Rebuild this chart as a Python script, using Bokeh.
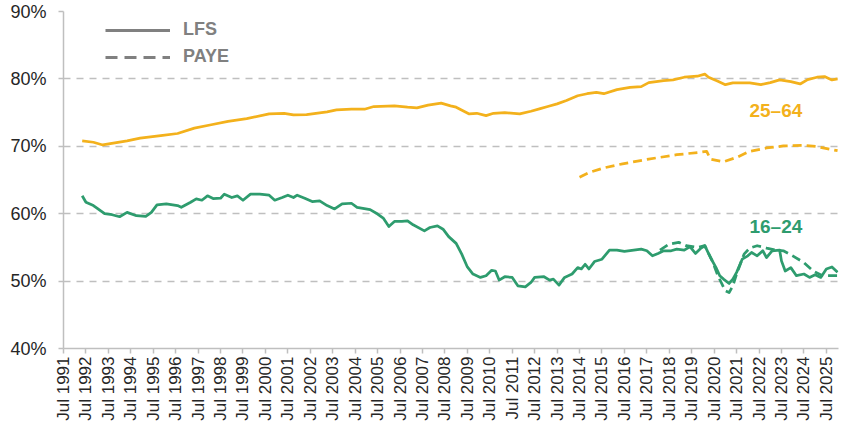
from bokeh.plotting import figure
from bokeh.models import Range1d, FixedTicker, Legend, LegendItem, Label, ColumnDataSource
from bokeh.embed import file_html
from bokeh.resources import INLINE
import math

# Employment rates (%), by age group and source
lfs_25_64_dates = ["1992-05", "1992-11", "1993-04", "1993-08", "1994-05", "1994-12", "1995-11",
                   "1996-08", "1997-05", "1998-02", "1998-11", "1999-09", "2000-09", "2001-05",
                   "2001-10", "2002-05", "2003-04", "2003-09", "2004-05", "2004-12", "2005-05",
                   "2006-04", "2006-11", "2007-04", "2007-10", "2008-05", "2008-10", "2009-01",
                   "2009-08", "2009-12", "2010-05", "2010-09", "2011-03", "2011-11", "2012-05",
                   "2012-10", "2013-02", "2013-07", "2013-12", "2014-06", "2014-11", "2015-04",
                   "2015-08", "2016-03", "2016-10", "2017-04", "2017-08", "2018-04", "2018-09",
                   "2019-03", "2019-10", "2020-02", "2020-04", "2020-09", "2021-01", "2021-05",
                   "2022-02", "2022-08", "2023-01", "2023-06", "2023-12", "2024-05", "2024-09",
                   "2025-02", "2025-06", "2025-10", "2026-01"]
lfs_25_64 = [70.8, 70.6, 70.2, 70.4, 70.8, 71.2, 71.6,
             71.9, 72.7, 73.2, 73.7, 74.1, 74.8, 74.9,
             74.65, 74.7, 75.1, 75.4, 75.5, 75.5, 75.9,
             76.0, 75.8, 75.7, 76.1, 76.4, 76.0, 75.8,
             74.8, 74.9, 74.55, 74.9, 75.0, 74.8, 75.2,
             75.6, 75.9, 76.3, 76.8, 77.5, 77.8, 78.0,
             77.8, 78.4, 78.75, 78.85, 79.45, 79.75, 79.85,
             80.25, 80.4, 80.7, 80.25, 79.65, 79.15, 79.4,
             79.4, 79.15, 79.45, 79.85, 79.6, 79.25, 79.9,
             80.25, 80.35, 79.85, 80.0]

paye_25_64_dates = ["2014-07", "2014-12", "2015-08", "2016-06", "2017-08", "2018-11", "2019-11",
                    "2020-03", "2020-05", "2020-12", "2021-07", "2022-02", "2022-11", "2023-08",
                    "2024-07", "2025-02", "2025-09", "2026-01"]
paye_25_64 = [65.4, 66.1, 66.8, 67.4, 68.1, 68.75, 69.1,
              69.25, 68.1, 67.7, 68.35, 69.25, 69.75, 70.05,
              70.15, 69.95, 69.55, 69.35]

lfs_16_24_dates = ["1992-05", "1992-07", "1992-11", "1993-05", "1993-09", "1994-01", "1994-05",
                   "1994-10", "1995-03", "1995-06", "1995-09", "1996-02", "1996-08", "1996-10",
                   "1997-03", "1997-06", "1997-09", "1997-12", "1998-03", "1998-07", "1998-09",
                   "1999-01", "1999-04", "1999-07", "1999-11", "2000-04", "2000-09", "2000-12",
                   "2001-04", "2001-07", "2001-10", "2001-12", "2002-04", "2002-08", "2002-12",
                   "2003-04", "2003-08", "2003-12", "2004-05", "2004-08", "2005-03", "2005-07",
                   "2005-10", "2006-01", "2006-04", "2006-08", "2006-11", "2007-02", "2007-08",
                   "2007-11", "2008-03", "2008-06", "2008-09", "2009-01", "2009-04", "2009-07",
                   "2009-10", "2010-02", "2010-05", "2010-08", "2010-10", "2010-12", "2011-03",
                   "2011-07", "2011-10", "2012-02", "2012-05", "2012-07", "2012-12", "2013-03",
                   "2013-05", "2013-08", "2013-11", "2014-03", "2014-06", "2014-08", "2014-10",
                   "2014-12", "2015-03", "2015-07", "2015-11", "2016-03", "2016-07", "2016-12",
                   "2017-04", "2017-07", "2017-10", "2018-01", "2018-04", "2018-08", "2018-11",
                   "2019-03", "2019-06", "2019-09", "2019-12", "2020-02", "2020-05", "2020-08",
                   "2020-10", "2020-12", "2021-03", "2021-05", "2021-07", "2021-10", "2022-01",
                   "2022-03", "2022-06", "2022-09", "2022-11", "2023-02", "2023-06", "2023-07",
                   "2023-09", "2023-12", "2024-03", "2024-07", "2024-10", "2025-01", "2025-04",
                   "2025-07", "2025-10", "2026-01"]
lfs_16_24 = [62.67, 61.7, 61.2, 60.0, 59.85, 59.55, 60.2,
             59.7, 59.6, 60.2, 61.3, 61.45, 61.2, 60.95,
             61.7, 62.2, 62.0, 62.65, 62.25, 62.3, 62.9,
             62.4, 62.65, 62.0, 62.9, 62.9, 62.75, 62.0,
             62.4, 62.75, 62.4, 62.75, 62.3, 61.8, 61.9,
             61.2, 60.7, 61.45, 61.55, 60.95, 60.6, 59.95,
             59.35, 58.1, 58.85, 58.85, 58.95, 58.35, 57.45,
             57.95, 58.2, 57.7, 56.6, 55.6, 54.0, 52.1,
             51.05, 50.55, 50.8, 51.6, 51.5, 50.15, 50.65,
             50.55, 49.3, 49.15, 49.8, 50.55, 50.65, 50.15,
             50.3, 49.4, 50.55, 51.05, 52.0, 51.8, 52.5,
             51.8, 52.9, 53.25, 54.6, 54.6, 54.4, 54.6,
             54.75, 54.5, 53.75, 54.1, 54.5, 54.5, 54.75,
             54.6, 55.1, 54.1, 54.9, 55.25, 53.5, 52.0,
             50.8, 50.3, 49.65, 50.3, 51.3, 53.25, 53.75,
             54.25, 53.75, 54.5, 53.5, 54.5, 54.6, 53.0,
             51.5, 52.0, 50.8, 51.05, 50.55, 50.95, 50.55,
             51.8, 52.1, 51.3]

paye_16_24_dates = ["2018-02", "2018-07", "2018-12", "2019-04", "2019-10", "2020-02", "2020-06",
                    "2020-09", "2021-01", "2021-03", "2021-05", "2021-07", "2021-11", "2022-02",
                    "2022-06", "2022-11", "2023-04", "2023-08", "2024-01", "2024-07", "2024-12",
                    "2025-05", "2026-01"]
paye_16_24 = [54.6, 55.5, 55.75, 55.25, 55.0, 55.25, 53.0,
              50.8, 48.55, 48.3, 49.3, 51.05, 54.0, 54.9,
              55.25, 54.9, 54.6, 54.5, 53.75, 52.75, 51.5,
              50.8, 50.8]

tick_years = list(range(1991, 2026))
y_ticks = [40, 50, 60, 70, 80, 90]

ORANGE = "#F3B11C"
GREEN = "#2E9C6E"
GREY = "#808080"
FONT = "Liberation Sans"


def month_index(s):
    y, m = s.split("-")
    return (int(y) - 1991) * 12 + int(m) - 1


p = figure(width=848, height=435, output_backend="svg", toolbar_location=None,
           x_range=Range1d(month_index("1991-07"), month_index("2026-01") + 0.5),
           y_range=Range1d(40, 90),
           min_border_left=63, min_border_right=10, min_border_top=11, min_border_bottom=87)
p.outline_line_color = None
p.background_fill_color = "white"
p.border_fill_color = "white"

# Axes
x_tick_pos = [month_index(f"{y}-07") for y in tick_years]
p.xaxis.ticker = FixedTicker(ticks=x_tick_pos)
p.xaxis.major_label_overrides = {pos: f"Jul {y}" for pos, y in zip(x_tick_pos, tick_years)}
p.xaxis.major_label_orientation = math.pi / 2
p.xaxis.major_label_text_font = FONT
p.xaxis.major_label_text_font_size = "17px"
p.xaxis.major_label_text_color = "#262626"
p.xaxis.major_label_standoff = 3
p.xaxis.major_tick_in = 0
p.xaxis.major_tick_out = 5
p.xaxis.minor_tick_line_color = None
p.xaxis.axis_line_color = "#BFBFBF"
p.xaxis.axis_line_width = 1.5
p.xaxis.major_tick_line_color = "#BFBFBF"
p.xaxis.major_tick_line_width = 1.5

p.yaxis.ticker = FixedTicker(ticks=y_ticks)
p.yaxis.major_label_overrides = {v: f"{v}%" for v in y_ticks}
p.yaxis.major_label_text_font = FONT
p.yaxis.major_label_text_font_size = "18px"
p.yaxis.major_label_text_color = "#262626"
p.yaxis.major_label_standoff = 12
p.yaxis.major_tick_in = 0
p.yaxis.major_tick_out = 5
p.yaxis.minor_tick_line_color = None
p.yaxis.axis_line_color = "#BFBFBF"
p.yaxis.axis_line_width = 1.5
p.yaxis.major_tick_line_color = "#BFBFBF"
p.yaxis.major_tick_line_width = 1.5

p.xgrid.grid_line_color = None
p.ygrid.grid_line_color = "#BFBFBF"
p.ygrid.grid_line_width = 1.5
p.ygrid.grid_line_dash = "7 6"

# Series
LW = 2.75
p.line([month_index(d) for d in lfs_25_64_dates], lfs_25_64,
       line_color=ORANGE, line_width=LW, line_join="round")
p.line([month_index(d) for d in paye_25_64_dates], paye_25_64,
       line_color=ORANGE, line_width=LW, line_dash="9 5", line_join="round")
p.line([month_index(d) for d in lfs_16_24_dates], lfs_16_24,
       line_color=GREEN, line_width=LW, line_join="round")
p.line([month_index(d) for d in paye_16_24_dates], paye_16_24,
       line_color=GREEN, line_width=LW, line_dash="9 5", line_join="round")

# Series labels
p.add_layout(Label(x=month_index("2023-04"), y=75.3, text="25\u201364", text_align="center",
                   text_baseline="middle", text_font=FONT, text_font_size="19px",
                   text_font_style="bold", text_color=ORANGE))
p.add_layout(Label(x=month_index("2023-04"), y=58.1, text="16\u201324", text_align="center",
                   text_baseline="middle", text_font=FONT, text_font_size="19px",
                   text_font_style="bold", text_color=GREEN))

# Source key (line styles only; the key renderers hold no visible data)
nan = float("nan")
key_src = ColumnDataSource(data=dict(x=[nan], y=[nan]))
key_lfs = p.line("x", "y", source=key_src, line_color=GREY, line_width=3)
key_paye = p.line("x", "y", source=key_src, line_color=GREY, line_width=3, line_dash="12 7")
legend = Legend(items=[LegendItem(label="LFS", renderers=[key_lfs]),
                       LegendItem(label="PAYE", renderers=[key_paye])],
                location=(42, 281), orientation="vertical",
                glyph_width=65, glyph_height=20, label_height=20, spacing=6,
                padding=0, margin=0, label_standoff=13,
                label_text_font=FONT, label_text_font_size="18px",
                label_text_font_style="bold", label_text_color=GREY,
                background_fill_alpha=0, border_line_color=None)
p.add_layout(legend, "center")

open("out.html", "w").write(file_html(p, INLINE))
